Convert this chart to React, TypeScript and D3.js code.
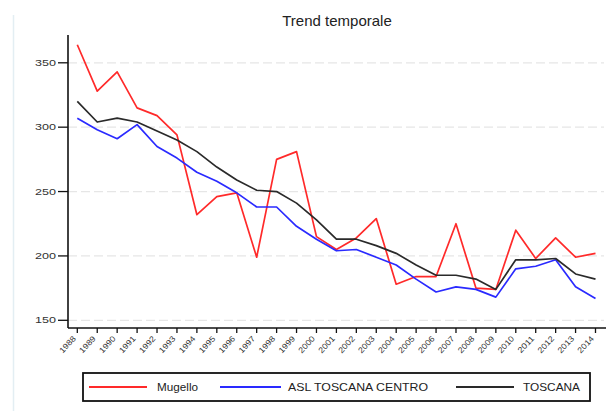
import React from "react";
import * as d3 from "d3";

const years = [1988,1989,1990,1991,1992,1993,1994,1995,1996,1997,1998,1999,2000,2001,2002,2003,2004,2005,2006,2007,2008,2009,2010,2011,2012,2013,2014];
const mugello = [364,328,343,315,309,294,232,246,249,199,275,281,215,205,214,229,178,184,184,225,175,174,220,198,214,199,202];
const asl = [307,298,291,302,285,276,265,258,249,238,238,223,213,204,205,199,193,182,172,176,174,168,190,192,197,176,167];
const toscana = [320,304,307,304,297,290,281,269,259,251,250,241,228,213,213,208,202,193,185,185,182,174,197,197,198,186,182];
const yTicks = [150,200,250,300,350];
const seriesNames = ["Mugello","ASL TOSCANA CENTRO","TOSCANA"];

const FONT = "'Liberation Sans', Arial, sans-serif";

export default function App() {
  const x = d3.scaleLinear().domain([1988, 2014]).range([77.3, 595.5]);
  const y = d3.scaleLinear().domain([150, 350]).range([320.3, 62.8]);
  const line = (vals: number[]) =>
    d3.line<number>().x((_, i) => x(years[i])).y((v) => y(v))(vals) as string;

  const series = [
    { name: seriesNames[0], values: mugello, color: "#ff2a2a" },
    { name: seriesNames[1], values: asl, color: "#2a2aff" },
    { name: seriesNames[2], values: toscana, color: "#2a2a2a" },
  ];
  const legend = [
    { x1: 89, x2: 147, tx: 157, tw: 41 },
    { x1: 220, x2: 281, tx: 288, tw: 140 },
    { x1: 456, x2: 514, tx: 523, tw: 57 },
  ];
  const axisLeft = 68;
  const axisBottom = 328;
  const plotRight = 604;

  return (
    <svg width={608} height={411} style={{ position: "absolute", left: 0, top: 0, background: "#fff" }} fontFamily={FONT}>
      <rect x={0} y={0} width={608} height={411} fill="#fff" />
      <line x1={13.5} x2={13.5} y1={15} y2={411} stroke="#e3eef3" strokeWidth={1.5} />
      <text x={337} y={26} textAnchor="middle" fontSize={15} fill="#222">Trend temporale</text>
      {yTicks.map((t) => (
        <g key={t}>
          <line x1={axisLeft} x2={plotRight} y1={y(t)} y2={y(t)} stroke="#e6e6e6" strokeWidth={1.2} strokeDasharray="9 4" />
          <line x1={axisLeft - 10} x2={axisLeft} y1={y(t)} y2={y(t)} stroke="#111" strokeWidth={1.3} />
          <text x={56} y={y(t) + 3} textAnchor="end" fontSize={9} fill="#333" textLength={21} lengthAdjust="spacingAndGlyphs">{t}</text>
        </g>
      ))}
      <line x1={axisLeft} x2={axisLeft} y1={35} y2={axisBottom} stroke="#111" strokeWidth={1.6} />
      <line x1={axisLeft} x2={plotRight + 2} y1={axisBottom} y2={axisBottom} stroke="#111" strokeWidth={1.6} />
      {years.map((yr) => (
        <g key={yr}>
          <line x1={x(yr)} x2={x(yr)} y1={axisBottom} y2={axisBottom + 5} stroke="#111" strokeWidth={1.3} />
          <text
            transform={`translate(${x(yr) - 1},${axisBottom + 11}) rotate(-47)`}
            textAnchor="end"
            fontSize={8}
            fill="#333"
            textLength={20}
            lengthAdjust="spacingAndGlyphs"
          >{yr}</text>
        </g>
      ))}
      {series.map((s) => (
        <path key={s.name} d={line(s.values)} fill="none" stroke={s.color} strokeWidth={1.7} strokeLinejoin="round" />
      ))}
      <rect x={83} y={373} width={507} height={28} fill="#fff" stroke="#111" strokeWidth={1.8} />
      {series.map((s, i) => (
        <g key={s.name}>
          <line x1={legend[i].x1} x2={legend[i].x2} y1={387} y2={387} stroke={s.color} strokeWidth={1.8} />
          <text x={legend[i].tx} y={391} fontSize={11} fill="#222" textLength={legend[i].tw} lengthAdjust="spacingAndGlyphs">{s.name}</text>
        </g>
      ))}
    </svg>
  );
}
